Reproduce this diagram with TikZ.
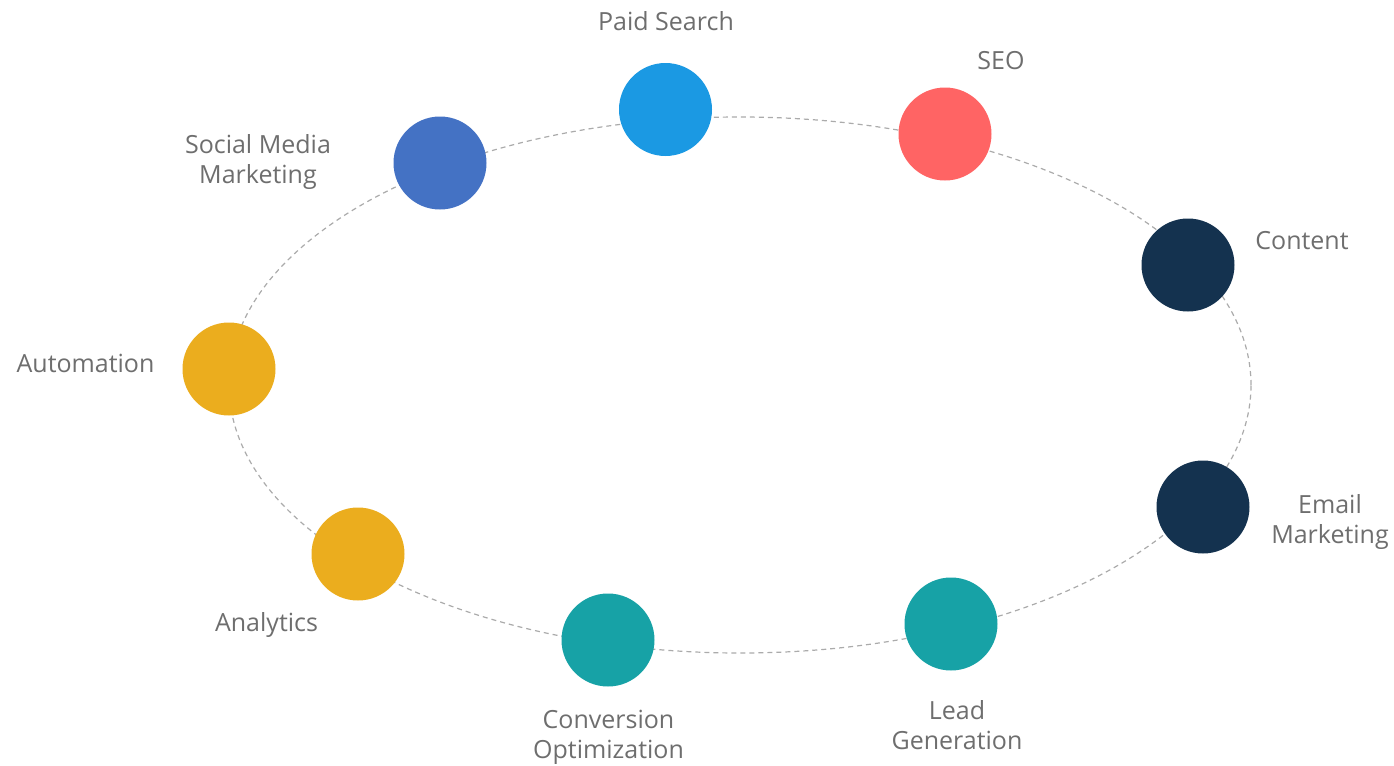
\documentclass[tikz,border=0pt]{standalone}
\usepackage{fontspec}
\setmainfont{Open Sans}
\definecolor{azul}{HTML}{1B99E3}
\definecolor{anil}{HTML}{4472C4}
\definecolor{coral}{HTML}{FF6464}
\definecolor{marinho}{HTML}{14324F}
\definecolor{verde}{HTML}{17A2A6}
\definecolor{ouro}{HTML}{EBAD1E}
\definecolor{texto}{HTML}{6E6E6E}
\definecolor{traco}{HTML}{ABABAB}

\begin{document}
\begin{tikzpicture}[x=0.5pt,y=-0.5pt,
  bola/.style={circle,minimum size=46.5pt,inner sep=0pt},
  rot/.style={text=texto,font=\fontsize{12.5}{15}\selectfont,align=center,inner sep=0pt}]
\useasboundingbox (0,0) rectangle (1394,766);
\draw[traco,line width=0.6pt,dash pattern=on 2.5pt off 2pt] (740,385) ellipse [x radius=255.5pt,y radius=134pt];

\node[bola,fill=azul] (PS) at (665.5,109.5) {};
\node[bola,fill=coral] (SE) at (945,134) {};
\node[bola,fill=marinho] (CT) at (1188,265) {};
\node[bola,fill=marinho] (EM) at (1203,507) {};
\node[bola,fill=verde] (LG) at (951,624) {};
\node[bola,fill=verde] (CO) at (608,640) {};
\node[bola,fill=ouro] (AN) at (358,554) {};
\node[bola,fill=ouro] (AU) at (229,369) {};
\node[bola,fill=anil] (SM) at (440,163) {};

\node[rot] (tPS) at (666,21) {Paid Search};
\node[rot] (tSE) at (1001,61) {SEO};
\node[rot] (tCT) at (1302,241) {Content};
\node[rot] (tEM) at (1330,522.5) {Email\\Marketing};
\node[rot] (tLG) at (957,725) {Lead\\Generation};
\node[rot] (tCO) at (608.5,737.5) {Conversion\\Optimization};
\node[rot] (tAN) at (266.5,625) {Analytics};
\node[rot] (tAU) at (85.5,363) {Automation};
\node[rot] (tSM) at (258,162.5) {Social Media\\Marketing};
\end{tikzpicture}
\end{document}
